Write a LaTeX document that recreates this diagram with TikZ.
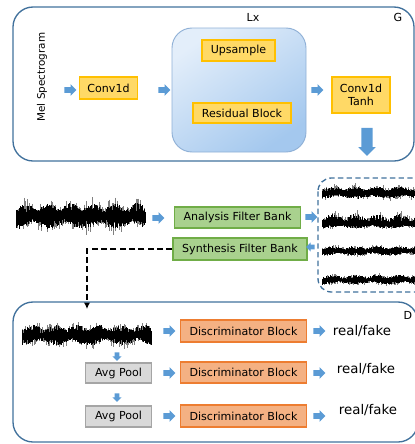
\documentclass[tikz,border=0pt]{standalone}
\usepackage{fontspec}
\setmainfont{DejaVu Sans}
\usetikzlibrary{shapes.arrows,arrows.meta}
\definecolor{yfill}{HTML}{FFD966}
\definecolor{ydraw}{HTML}{FFC000}
\definecolor{gfill}{HTML}{A9D18E}
\definecolor{gdraw}{HTML}{70AD47}
\definecolor{ofill}{HTML}{F4B183}
\definecolor{odraw}{HTML}{ED7D31}
\definecolor{pfill}{HTML}{D9D9D9}
\definecolor{pdraw}{HTML}{A5A5A5}
\definecolor{arrblue}{HTML}{5B9BD5}
\definecolor{frame}{HTML}{41719C}
\definecolor{lxtop}{HTML}{E3EEFA}
\definecolor{lxbot}{HTML}{A4C8EE}
\definecolor{lxdraw}{HTML}{8FB0D6}
\newcommand{\wavefm}[6]{% x0, count, yc, ampUp, ampDown, seed
  \pgfmathsetseed{#6}
  \draw[line width=0.3pt,black!50] \foreach \i in {0,...,#2} {
    ({#1+\i*0.5},{#3-#4*(0.3+0.7*rnd*rnd)*(0.5+0.5*abs(sin(\i*4.1)))}) -- ({#1+\i*0.5},{#3+#5*(0.3+0.7*rnd*rnd)*(0.5+0.5*abs(cos(\i*2.7)))})};
  \draw[line width=0.4pt,black] \foreach \i in {0,...,#2} {
    ({#1+\i*0.5},{#3-#4*(0.2+0.45*rnd)*(0.45+0.55*abs(sin(\i*4.1)))}) -- ({#1+\i*0.5},{#3+#5*(0.2+0.45*rnd)*(0.45+0.55*abs(cos(\i*2.7)))})};
}
\tikzset{
  lbl/.style={font=\fontsize{8.3}{9.6}\selectfont},
  ybox/.style={lbl, draw=ydraw, fill=yfill, line width=0.9pt, inner sep=0pt, align=center},
  gbox/.style={lbl, draw=gdraw, fill=gfill, line width=0.9pt, inner sep=0pt},
  obox/.style={lbl, draw=odraw, fill=ofill, line width=0.9pt, inner sep=0pt},
  pbox/.style={lbl, draw=pdraw, fill=pfill, line width=0.9pt, inner sep=0pt},
  barr/.style={single arrow, fill=arrblue, inner sep=1.9pt, single arrow head extend=2.3pt, minimum height=9pt, minimum width=0pt, draw=none},
  sarr/.style={single arrow, fill=arrblue, inner sep=1.5pt, single arrow head extend=1.8pt, minimum height=6.5pt, minimum width=0pt, draw=none},
  bigarr/.style={single arrow, fill=arrblue, inner sep=4.1pt, single arrow head extend=2.2pt, minimum height=21pt, draw=none, shape border rotate=270},
  frm/.style={draw=frame, line width=1pt, rounded corners=15pt},
  rf/.style={font=\fontsize{10}{12}\selectfont},
}
\begin{document}
\begin{tikzpicture}[x=0.75pt,y=-0.75pt]
\useasboundingbox (0,0) rectangle (415,444);
\clip (0,0) rectangle (415,444);
% ---- G block
\draw[frm] (13,7) rectangle (414,161);
\node[lbl] (Lx) at (253,17) {Lx};
\node[lbl] (G) at (398,17) {G};
\shade[top color=lxtop, bottom color=lxbot, shading angle=35, draw=lxdraw, line width=0.7pt, rounded corners=15pt] (172,28) rectangle (306,152);
\node (lxbox) at (239,90) [minimum width=100.5pt, minimum height=93pt] {};
\node[font=\fontsize{7.8}{9}\selectfont, rotate=90] (mel) at (42,77) {Mel Spectrogram};
\node[ybox, minimum width=44pt, minimum height=16.5pt] (conv) at (108.5,88) {Conv1d};
\node[ybox, minimum width=54.75pt, minimum height=15.75pt] (up) at (238.5,50.5) {Upsample};
\node[ybox, minimum width=73.5pt, minimum height=15pt] (res) at (242,113) {Residual Block};
\node[ybox, minimum width=43.5pt, minimum height=27pt] (tanh) at (361,95) {Conv1d\\Tanh};
\node[barr] (a1) at (69,90) {};
\node[barr] (a2) at (163,90) {};
\node[barr] (a3) at (316,90) {};
\node[bigarr] (a4) at (367,139) {};
% ---- filter banks
\wavefm{16}{258}{216}{20}{20}{11}
\node (wv1) at (80,216) [minimum width=97pt, minimum height=28pt] {};
\node[barr] (a5) at (157,218) {};
\node[gbox, minimum width=95pt, minimum height=15.75pt] (afb) at (237.5,217.5) {Analysis Filter Bank};
\node[gbox, minimum width=100.5pt, minimum height=16.5pt] (sfb) at (240,249) {Synthesis Filter Bank};
\node[barr] (a6) at (310,217) {};
\node[sarr, shape border rotate=180] (a7) at (311.5,247) {};
\begin{scope}
\clip[rounded corners=10pt] (318,178) rectangle (440,292);
\wavefm{322}{200}{193}{10}{9}{21}
\wavefm{322}{200}{224}{15}{7}{31}
\wavefm{322}{200}{251}{8}{7}{41}
\wavefm{322}{200}{280}{8}{7}{51}
\end{scope}
\draw[frame, dashed, line width=1pt, dash pattern=on 4pt off 2.5pt, rounded corners=10pt] (318,178) rectangle (440,292);
\coordinate (dtip) at (87,309);
\draw[black, line width=1.6pt, dash pattern=on 4.5pt off 2.5pt, -{Latex[length=5pt,width=5pt]}] (sfb.west) -| (dtip);
% ---- D block
\draw[frm] (13,302) rectangle (418,442);
\node[lbl] (D) at (408,315) {D};
\wavefm{22}{258}{335}{16}{16}{61}
\node (wv2) at (86,335) [minimum width=97pt, minimum height=22pt] {};
\node[sarr, shape border rotate=270] (d1) at (117,355.5) {};
\node[sarr, shape border rotate=270] (d2) at (117,396.5) {};
\node[pbox, minimum width=50pt, minimum height=15pt] (p1) at (118.5,373) {Avg Pool};
\node[pbox, minimum width=50pt, minimum height=15.75pt] (p2) at (118.5,416.5) {Avg Pool};
\node[obox, minimum width=95pt, minimum height=16.5pt] (db1) at (243.5,331) {Discriminator Block};
\node[obox, minimum width=95pt, minimum height=15.75pt] (db2) at (243.5,372.5) {Discriminator Block};
\node[obox, minimum width=95pt, minimum height=16.5pt] (db3) at (243.5,416) {Discriminator Block};
\foreach \y/\n in {331/1,373/2,416/3}{
  \node[barr] (l\n) at (168,\y) {};
  \node[barr] (r\n) at (318,\y) {};
}
\node[rf] (rf1) at (362,331) {real/fake};
\node[rf] (rf2) at (366,369) {real/fake};
\node[rf] (rf3) at (368,410) {real/fake};
\end{tikzpicture}
\end{document}
